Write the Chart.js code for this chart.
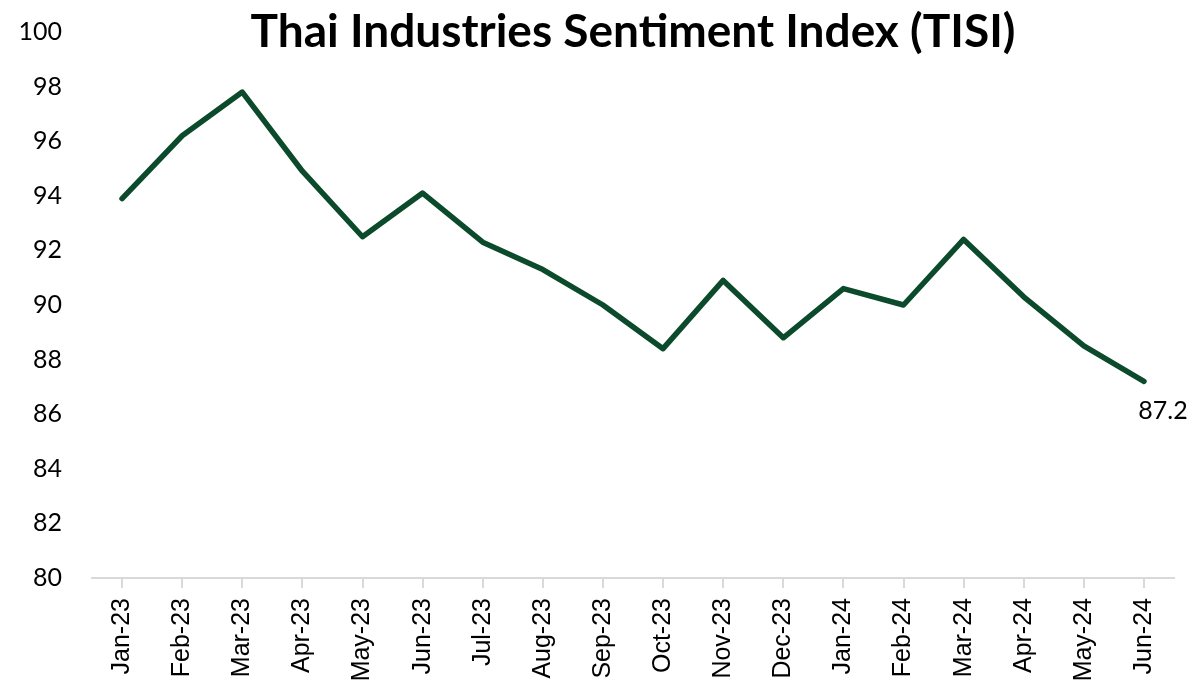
<!DOCTYPE html>
<html>
<head>
<meta charset="utf-8">
<script src="https://cdn.jsdelivr.net/npm/chart.js@4.4.0/dist/chart.umd.min.js"></script>
<style>
  html, body { margin: 0; padding: 0; background: #ffffff; }
  #wrap { position: relative; width: 1193px; height: 690px; }
  #title {
    position: absolute; left: 92px; right: 19px; top: 2px;
    text-align: center; font-family: Lato, "Open Sans", sans-serif;
    font-weight: 700; font-size: 46px; color: #000; pointer-events: none;
  }
</style>
</head>
<body>
<div id="wrap">
  <canvas id="myChart" width="1193" height="690"></canvas>
  <div id="title">Thai Industries Sentiment Index (TISI)</div>
</div>
<script>
// Data
var months = ['Jan-23', 'Feb-23', 'Mar-23', 'Apr-23', 'May-23', 'Jun-23', 'Jul-23', 'Aug-23', 'Sep-23',
              'Oct-23', 'Nov-23', 'Dec-23', 'Jan-24', 'Feb-24', 'Mar-24', 'Apr-24', 'May-24', 'Jun-24'];
var tisi = [93.9, 96.2, 97.8, 94.9, 92.5, 94.1, 92.3, 91.3, 90.0,
            88.4, 90.9, 88.8, 90.6, 90.0, 92.4, 90.3, 88.5, 87.2];
var yMin = 80;
var yMax = 100;
var yStep = 2;

var lineColor = '#0b4a2b';

// label only on the last point
var lastLabel = {
    id: 'lastLabel',
    afterDatasetsDraw: function(chart){
        var meta = chart.getDatasetMeta(0);
        var i = tisi.length - 1;
        var pt = meta.data[i];
        var ctx = chart.ctx;
        ctx.save();
        ctx.font = '25px Lato, "Open Sans", sans-serif';
        ctx.fillStyle = '#000';
        ctx.textAlign = 'center';
        ctx.textBaseline = 'middle';
        ctx.fillText(tisi[i].toFixed(1), pt.x + 19, pt.y + 29);
        ctx.restore();
    }
};

var ctx = document.getElementById('myChart').getContext('2d');
var chart = new Chart(ctx, {
    type: 'line',
    data: {
        labels: months,
        datasets: [{
            label: 'TISI',
            data: tisi,
            borderColor: lineColor,
            backgroundColor: lineColor,
            borderWidth: 5.5,
            borderCapStyle: 'round',
            borderJoinStyle: 'round',
            pointRadius: 0,
            tension: 0
        }]
    },
    options: {
        responsive: false,
        animation: false,
        layout: { padding: { top: 32, right: 19, left: 0, bottom: 0 } },
        plugins: {
            legend: { display: false },
            title: { display: false },
            tooltip: { enabled: false }
        },
        scales: {
            x: {
                offset: true,
                afterFit: function(scale){ scale.height = 112; },
                grid: {
                    display: true,
                    drawOnChartArea: false,
                    drawTicks: true,
                    tickLength: 10,
                    color: '#d9d9d9',
                    lineWidth: 2
                },
                border: { display: true, color: '#d9d9d9', width: 2 },
                ticks: {
                    minRotation: 90,
                    maxRotation: 90,
                    autoSkip: false,
                    padding: 10,
                    color: '#000',
                    font: { family: '"Liberation Sans", Arial, sans-serif', size: 25 }
                }
            },
            y: {
                min: yMin,
                max: yMax,
                afterFit: function(scale){
                    scale.width = 92;
                    scale.paddingTop = 0;
                    scale.paddingBottom = 0;
                },
                grid: { display: false },
                border: { display: false },
                ticks: {
                    stepSize: yStep,
                    padding: 22,
                    color: '#000',
                    font: { family: 'Lato, "Open Sans", sans-serif', size: 25 }
                }
            }
        }
    },
    plugins: [lastLabel]
});
</script>
</body>
</html>
